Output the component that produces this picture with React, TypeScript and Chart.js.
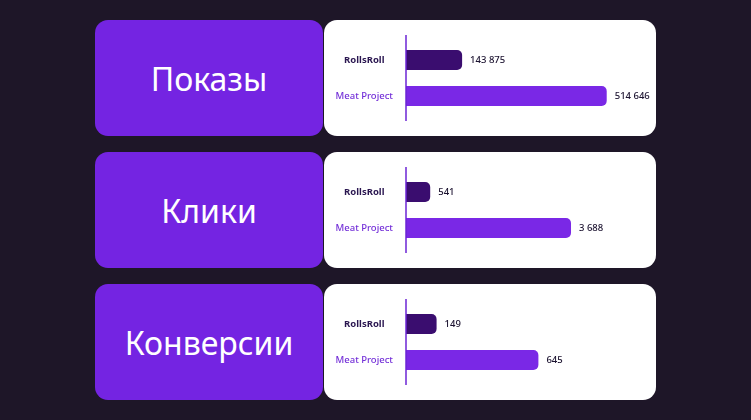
import { useEffect, useRef } from "react";
import { Chart, registerables } from "chart.js";

Chart.register(...registerables);

const metricTitles = ["Показы", "Клики", "Конверсии"];
const projects = ["RollsRoll", "Meat Project"];
const rollsRollValues = [143875, 541, 149];
const meatProjectValues = [514646, 3688, 645];
const axisMax = [600000, 5230, 1140];

const ROW_TOP = [20, 152, 284];
const DARK = "#3a0d6f";
const PURPLE = "#7a28e6";

const fmt = (n: number) => String(n).replace(/\B(?=(\d{3})+(?!\d))/g, " ");

const barExtras = {
  id: "barExtras",
  afterDatasetsDraw(chart: Chart) {
    const { ctx, chartArea } = chart;
    ctx.save();
    ctx.strokeStyle = "#6b25d4";
    ctx.lineWidth = 1.5;
    ctx.beginPath();
    ctx.moveTo(chartArea.left, chartArea.top - 7);
    ctx.lineTo(chartArea.left, chartArea.bottom + 7);
    ctx.stroke();

    const values = chart.data.datasets[0].data as number[];
    ctx.fillStyle = "#1c1330";
    ctx.font = "500 9.5px 'Noto Sans'";
    ctx.textBaseline = "middle";
    ctx.textAlign = "left";
    chart.getDatasetMeta(0).data.forEach((bar: any, i: number) => {
      ctx.fillText(fmt(values[i]), bar.x + 8, bar.y);
    });
    ctx.restore();
  },
};

const MetricChart = ({ index }: { index: number }) => {
  const canvasRef = useRef<HTMLCanvasElement | null>(null);

  useEffect(() => {
    if (!canvasRef.current) return;
    const chart = new Chart(canvasRef.current, {
      type: "bar",
      data: {
        labels: projects,
        datasets: [
          {
            data: [rollsRollValues[index], meatProjectValues[index]],
            backgroundColor: [DARK, PURPLE],
            borderRadius: 5,
            borderSkipped: "start",
            categoryPercentage: 1,
            barPercentage: 20 / 36,
          },
        ],
      },
      options: {
        indexAxis: "y",
        animation: false,
        responsive: true,
        maintainAspectRatio: false,
        layout: { padding: { top: 22, bottom: 22, left: 0, right: 16 } },
        plugins: { legend: { display: false }, tooltip: { enabled: false } },
        scales: {
          x: { display: false, min: 0, max: axisMax[index] },
          y: {
            grid: { display: false },
            border: { display: false },
            afterFit: (scale: any) => {
              scale.width = 82;
            },
            ticks: {
              crossAlign: "center",
              padding: 5,
              color: (ctx: any) => (ctx.index === 0 ? "#2a1650" : "#7430d8"),
              font: (ctx: any) => ({
                family: "'Noto Sans'",
                size: 9.5,
                weight: ctx.index === 0 ? "bold" : "500",
              }),
            },
          },
        },
      },
      plugins: [barExtras],
    });
    return () => chart.destroy();
  }, [index]);

  return (
    <div style={{ position: "relative", width: 332, height: 116 }}>
      <canvas ref={canvasRef}></canvas>
    </div>
  );
};

const App = () => {
  return (
    <div
      style={{
        position: "fixed",
        inset: 0,
        background: "#1e1628",
        fontFamily: "'Noto Sans', sans-serif",
      }}
    >
      {metricTitles.map((title, i) => (
        <div key={title}>
          <div
            style={{
              position: "absolute",
              left: 95,
              top: ROW_TOP[i],
              width: 228,
              height: 116,
              borderRadius: 13,
              background: "#7424e2",
              color: "#fff",
              fontSize: 32,
              display: "flex",
              alignItems: "center",
              justifyContent: "center",
            }}
          >
            {title}
          </div>
          <div
            style={{
              position: "absolute",
              left: 324,
              top: ROW_TOP[i],
              width: 332,
              height: 116,
              borderRadius: 13,
              background: "#fff",
              overflow: "hidden",
            }}
          >
            <MetricChart index={i} />
          </div>
        </div>
      ))}
    </div>
  );
};

export default App;
